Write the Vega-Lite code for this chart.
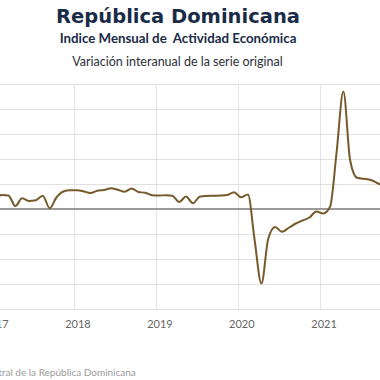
{
  "$schema": "https://vega.github.io/schema/vega-lite/v6.json",
  "width": 380,
  "height": 225,
  "autosize": {"type": "none"},
  "padding": {"left": 0, "top": 84, "right": 0, "bottom": 71},
  "background": "white",
  "title": {
    "text": "República Dominicana",
    "subtitle": "Indice Mensual de\u00a0\u00a0Actividad Económica",
    "anchor": "middle",
    "frame": "group",
    "dx": -12,
    "dy": -1,
    "font": "DejaVu Sans",
    "fontSize": 19.5,
    "fontWeight": "bold",
    "color": "#1a2b48",
    "subtitleFont": "Lato",
    "subtitleFontSize": 13.3,
    "subtitleFontWeight": "bold",
    "subtitleColor": "#1a2b48",
    "subtitlePadding": 4,
    "offset": 8
  },
  "config": {"view": {"stroke": null}},
  "data": {
    "values": [
      {"date": "2017-01-15", "v": 4.5}, {"date": "2017-02-15", "v": 5.6}, {"date": "2017-03-15", "v": 5.4},
      {"date": "2017-04-15", "v": 1.2}, {"date": "2017-05-15", "v": 4.3}, {"date": "2017-06-15", "v": 3.2},
      {"date": "2017-07-15", "v": 3.5}, {"date": "2017-08-15", "v": 5.3}, {"date": "2017-09-15", "v": 0.3},
      {"date": "2017-10-15", "v": 4.6}, {"date": "2017-11-15", "v": 7.0}, {"date": "2017-12-15", "v": 7.5},
      {"date": "2018-01-15", "v": 7.5}, {"date": "2018-02-15", "v": 7.0}, {"date": "2018-03-15", "v": 6.4},
      {"date": "2018-04-15", "v": 7.3}, {"date": "2018-05-15", "v": 7.6}, {"date": "2018-06-15", "v": 8.3},
      {"date": "2018-07-15", "v": 7.7}, {"date": "2018-08-15", "v": 6.9}, {"date": "2018-09-15", "v": 8.2},
      {"date": "2018-10-15", "v": 6.8}, {"date": "2018-11-15", "v": 6.5}, {"date": "2018-12-15", "v": 5.5},
      {"date": "2019-01-15", "v": 5.4}, {"date": "2019-02-15", "v": 5.5}, {"date": "2019-03-15", "v": 5.3},
      {"date": "2019-04-15", "v": 2.8}, {"date": "2019-05-15", "v": 5.0}, {"date": "2019-06-15", "v": 2.3},
      {"date": "2019-07-15", "v": 4.9}, {"date": "2019-08-15", "v": 5.2}, {"date": "2019-09-15", "v": 5.3},
      {"date": "2019-10-15", "v": 5.4}, {"date": "2019-11-15", "v": 5.6}, {"date": "2019-12-15", "v": 6.7},
      {"date": "2020-01-15", "v": 4.7}, {"date": "2020-02-15", "v": 5.8}, {"date": "2020-03-15", "v": -12.0},
      {"date": "2020-04-15", "v": -29.8}, {"date": "2020-05-15", "v": -12.0}, {"date": "2020-06-15", "v": -7.2},
      {"date": "2020-07-15", "v": -9.1}, {"date": "2020-08-15", "v": -7.5}, {"date": "2020-09-15", "v": -5.8},
      {"date": "2020-10-15", "v": -4.6}, {"date": "2020-11-15", "v": -3.4}, {"date": "2020-12-15", "v": -1.0},
      {"date": "2021-01-15", "v": -1.8}, {"date": "2021-02-15", "v": 1.0}, {"date": "2021-03-15", "v": 22.0},
      {"date": "2021-04-15", "v": 47.0}, {"date": "2021-05-15", "v": 19.5}, {"date": "2021-06-15", "v": 12.5},
      {"date": "2021-07-15", "v": 12.1}, {"date": "2021-08-15", "v": 11.6}, {"date": "2021-09-15", "v": 10.3},
      {"date": "2021-10-15", "v": 9.0}, {"date": "2021-11-15", "v": 8.5}
    ]
  },
  "layer": [
    {
      "mark": {"type": "rule", "color": "#9a9a9a", "strokeWidth": 1.5},
      "encoding": {
        "y": {
          "datum": 0, "type": "quantitative",
          "scale": {"domain": [-40, 50], "nice": false},
          "axis": {
            "values": [-40, -30, -20, -10, 0, 10, 20, 30, 40, 50], "tickCount": 10,
            "grid": true, "gridColor": "#e0e0e0", "gridWidth": 1,
            "labels": false, "ticks": false, "domain": false,
            "title": "Variación interanual de la serie original",
            "titleFont": "Lato", "titleFontSize": 12.5, "titleFontWeight": "normal", "titleColor": "#2b2f3a",
            "titleAngle": 0, "titleAlign": "center", "titleBaseline": "middle",
            "titleX": 177, "titleY": -23
          }
        }
      }
    },
    {
      "mark": {"type": "line", "color": "#765a2c", "strokeWidth": 2, "interpolate": "monotone", "clip": true},
      "encoding": {
        "x": {
          "field": "date", "type": "temporal",
          "scale": {"domain": [{"year": 2017, "month": 1, "date": 1}, {"year": 2022, "month": 1, "date": 1}], "range": [-8, 402]},
          "axis": {
            "format": "%Y", "tickCount": {"interval": "year", "step": 1},
            "grid": true, "gridColor": "#e4e4e4", "gridWidth": 1,
            "domain": false, "ticks": false, "labelFlush": false, "labelOverlap": false,
            "labelFont": "Lato", "labelFontSize": 11, "labelColor": "#666666", "labelPadding": 9, "labelOffset": 3.5,
            "title": "Fuente: Banco Central de la República Dominicana",
            "titleFont": "Lato", "titleFontSize": 10, "titleFontWeight": "normal", "titleColor": "#9a9a9a",
            "titleAlign": "left", "titleAnchor": "start", "titleBaseline": "middle",
            "titleX": -85, "titleY": 63
          }
        },
        "y": {
          "field": "v", "type": "quantitative",
          "scale": {"domain": [-40, 50], "nice": false},
          "axis": {
            "values": [-40, -30, -20, -10, 0, 10, 20, 30, 40, 50], "tickCount": 10,
            "grid": true, "gridColor": "#e0e0e0", "gridWidth": 1,
            "labels": false, "ticks": false, "domain": false,
            "title": "Variación interanual de la serie original",
            "titleFont": "Lato", "titleFontSize": 12.5, "titleFontWeight": "normal", "titleColor": "#2b2f3a",
            "titleAngle": 0, "titleAlign": "center", "titleBaseline": "middle",
            "titleX": 177, "titleY": -23
          }
        }
      }
    }
  ]
}
